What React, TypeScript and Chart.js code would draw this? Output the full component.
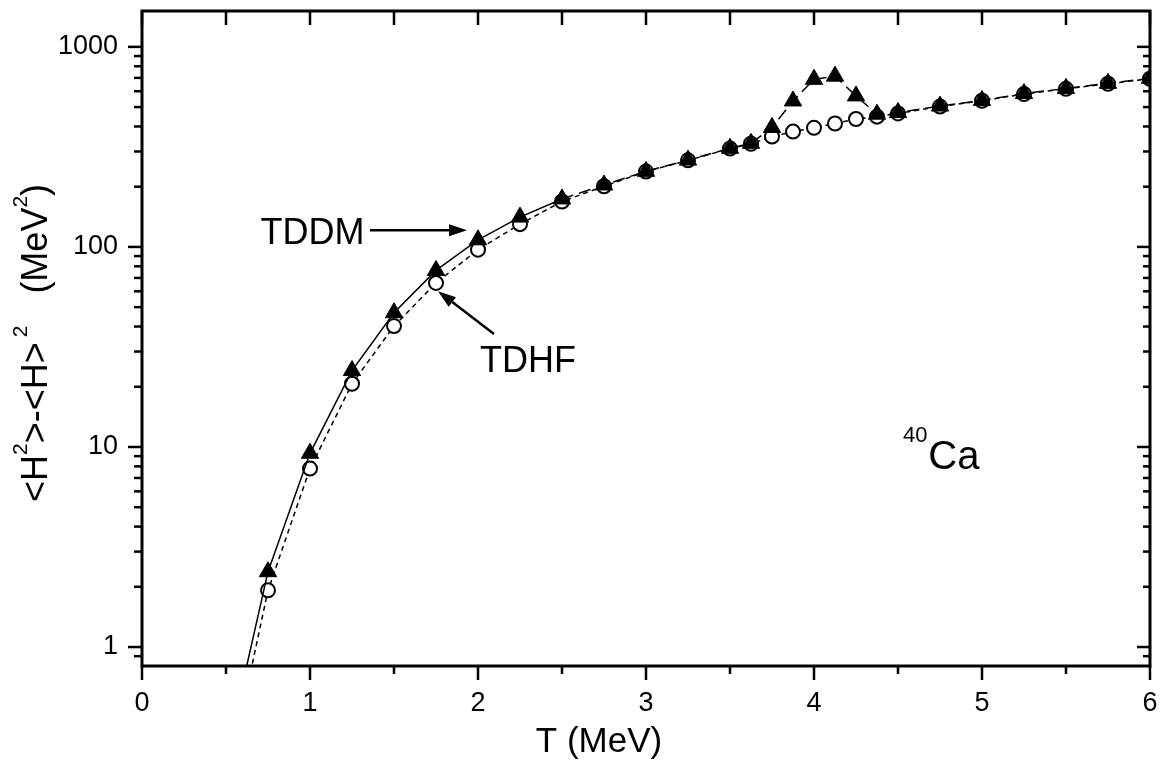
import React, { useEffect, useRef } from 'react';
import { Chart, registerables } from 'chart.js';

Chart.register(...registerables);

// ---------- data ----------
const temperatureMeV = [0.5, 0.75, 1.0, 1.25, 1.5, 1.75, 2.0, 2.25, 2.5, 2.75, 3.0, 3.25, 3.5, 3.625, 3.75, 3.875, 4.0, 4.125, 4.25, 4.375, 4.5, 4.75, 5.0, 5.25, 5.5, 5.75, 6.0];
const tddmVariance = [0.28, 2.38, 9.3, 24.1, 46.9, 76.3, 108.5, 141, 173.7, 204, 238.7, 271.7, 311, 329.5, 395.6, 536.5, 688, 714, 568.6, 460.7, 469.5, 506, 540, 584, 620, 657, 696];
const tdhfVariance = [0.2, 1.92, 7.8, 20.7, 40.2, 66.1, 96.9, 130, 168.7, 201, 238, 271, 310, 328, 356, 377, 394, 414, 436, 448, 465, 503, 538, 581, 617, 654, 693];

const xMajorTicks = [0, 1, 2, 3, 4, 5, 6];
const xTickLabels = ['0', '1', '2', '3', '4', '5', '6'];
const xMinorTicks = [0.5, 1.5, 2.5, 3.5, 4.5, 5.5];
const yMajorTicks = [1, 10, 100, 1000];
const yTickLabels = ['1', '10', '100', '1000'];
const yMinorTicks = [0.9, 2, 3, 4, 5, 6, 7, 8, 9, 20, 30, 40, 50, 60, 70, 80, 90, 200, 300, 400, 500, 600, 700, 800, 900];

const FONT = '"Liberation Sans", Arial, Helvetica, sans-serif';

function arrow(ctx: CanvasRenderingContext2D, x1: number, y1: number, x2: number, y2: number) {
  const ang = Math.atan2(y2 - y1, x2 - x1);
  const hl = 18;
  const hw = 6;
  const bx = x2 - Math.cos(ang) * hl;
  const by = y2 - Math.sin(ang) * hl;
  ctx.beginPath();
  ctx.moveTo(x1, y1);
  ctx.lineTo(bx, by);
  ctx.lineWidth = 2.5;
  ctx.stroke();
  ctx.beginPath();
  ctx.moveTo(x2, y2);
  ctx.lineTo(bx + Math.sin(ang) * hw, by - Math.cos(ang) * hw);
  ctx.lineTo(bx - Math.sin(ang) * hw, by + Math.cos(ang) * hw);
  ctx.closePath();
  ctx.fill();
}

const framePlugin = {
  id: 'originFrame',
  afterDraw(chart: any) {
    const { ctx, chartArea: a, scales } = chart;
    const xs = scales.x;
    const ys = scales.y;
    const px = (v: number) => xs.getPixelForValue(v);
    const py = (v: number) => ys.getPixelForValue(v);
    ctx.save();
    ctx.strokeStyle = '#000';
    ctx.fillStyle = '#000';
    ctx.lineCap = 'butt';
    const seg = (x1: number, y1: number, x2: number, y2: number) => {
      ctx.beginPath();
      ctx.moveTo(x1, y1);
      ctx.lineTo(x2, y2);
      ctx.stroke();
    };
    ctx.lineWidth = 2.5;
    xMajorTicks.forEach((v) => {
      const x = px(v);
      seg(x, a.bottom, x, a.bottom + 14);
      seg(x, a.top, x, a.top + 14);
    });
    xMinorTicks.forEach((v) => {
      const x = px(v);
      seg(x, a.bottom, x, a.bottom + 8);
      seg(x, a.top, x, a.top + 14);
    });
    yMajorTicks.forEach((v) => {
      const y = py(v);
      seg(a.left - 14, y, a.left, y);
      seg(a.right - 13, y, a.right, y);
    });
    yMinorTicks.forEach((v) => {
      const y = py(v);
      if (y < a.top || y > a.bottom) return;
      seg(a.left - 8, y, a.left, y);
      seg(a.right - 7, y, a.right, y);
    });
    ctx.lineWidth = 3;
    ctx.strokeRect(a.left, a.top, a.right - a.left, a.bottom - a.top);

    // x title
    ctx.font = `35px ${FONT}`;
    ctx.textAlign = 'center';
    ctx.textBaseline = 'alphabetic';
    ctx.fillText('T (MeV)', 599, 752);

    // y title (rotated, with superscripts)
    const big = `36px ${FONT}`;
    const small = `21px ${FONT}`;
    const parts: { t: string; sup?: boolean; gap?: number }[] = [
      { t: '<H' },
      { t: '2', sup: true },
      { t: '>-<H>' },
      { t: '', gap: 5 },
      { t: '2', sup: true },
      { t: '', gap: 32 },
      { t: '(MeV' },
      { t: '2', sup: true },
      { t: ')' },
    ];
    let total = 0;
    const widths = parts.map((p) => {
      if (p.gap) return p.gap;
      ctx.font = p.sup ? small : big;
      return ctx.measureText(p.t).width;
    });
    widths.forEach((w) => (total += w));
    ctx.save();
    ctx.translate(47, 343);
    ctx.rotate(-Math.PI / 2);
    ctx.textAlign = 'left';
    let cx = -total / 2;
    parts.forEach((p, i) => {
      if (!p.gap) {
        ctx.font = p.sup ? small : big;
        ctx.fillText(p.t, cx, p.sup ? -20 : 0);
      }
      cx += widths[i];
    });
    ctx.restore();

    // annotations
    ctx.textAlign = 'left';
    ctx.font = `36px ${FONT}`;
    ctx.fillText('TDDM', px(0.705), py(104));
    arrow(ctx, px(1.357), py(121), px(1.935), py(121));
    ctx.fillText('TDHF', px(2.012), py(23.7));
    arrow(ctx, px(2.095), py(36.7), px(1.762), py(60.1));
    ctx.font = `22px ${FONT}`;
    ctx.fillText('40', px(4.53), py(10.6));
    ctx.font = `40px ${FONT}`;
    ctx.fillText('Ca', px(4.68), py(7.8));
    ctx.restore();
  },
};

export default function App() {
  const ref = useRef<HTMLCanvasElement | null>(null);
  useEffect(() => {
    document.body.style.margin = '0';
    const canvas = ref.current;
    if (!canvas) return;
    const tddm = temperatureMeV.map((t, i) => ({ x: t, y: tddmVariance[i] }));
    const tdhf = temperatureMeV.map((t, i) => ({ x: t, y: tdhfVariance[i] }));
    const chart = new Chart(canvas, {
      type: 'line',
      data: {
        datasets: [
          {
            label: 'TDDM',
            data: tddm,
            order: 0,
            borderColor: '#000',
            borderWidth: 1.5,
            backgroundColor: '#000',
            pointStyle: 'triangle',
            pointRadius: (c: any) => (c.dataIndex === 0 ? 0 : 10),
            pointBorderWidth: 1,
            pointBorderColor: '#000',
            pointBackgroundColor: '#000',
            tension: 0,
            fill: false,
            segment: {
              borderDash: (c: any) => (c.p0.parsed.x >= 2.5 ? [12, 6] : undefined),
            },
          },
          {
            label: 'TDHF',
            data: tdhf,
            order: 1,
            borderColor: '#000',
            borderWidth: 1.5,
            borderDash: [5, 4],
            pointStyle: 'circle',
            pointRadius: (c: any) => (c.dataIndex === 0 ? 0 : 7),
            pointBorderWidth: 2,
            pointBorderColor: '#000',
            pointBackgroundColor: '#fff',
            tension: 0,
            fill: false,
          },
        ],
      },
      options: {
        responsive: false,
        animation: false,
        devicePixelRatio: 1,
        layout: { padding: { left: 0, top: 9, right: 14, bottom: 0 } },
        plugins: { legend: { display: false }, tooltip: { enabled: false } },
        scales: {
          x: {
            type: 'linear',
            min: 0,
            max: 6,
            grid: { display: false, drawTicks: false },
            border: { display: false },
            afterBuildTicks: (s: any) => {
              s.ticks = xMajorTicks.map((v) => ({ value: v }));
            },
            afterFit: (s: any) => {
              s.height = 99;
              s.paddingLeft = 0;
              s.paddingRight = 0;
            },
            ticks: {
              autoSkip: false,
              maxRotation: 0,
              padding: 21,
              color: '#000',
              font: { family: FONT, size: 27 },
              callback: (_v: any, i: number) => xTickLabels[i],
            },
          },
          y: {
            type: 'logarithmic',
            min: 0.804,
            max: 1511,
            grid: { display: false, drawTicks: false },
            border: { display: false },
            afterBuildTicks: (s: any) => {
              s.ticks = yMajorTicks.map((v) => ({ value: v }));
            },
            afterFit: (s: any) => {
              s.width = 142;
              s.paddingTop = 0;
              s.paddingBottom = 0;
            },
            ticks: {
              autoSkip: false,
              padding: 24,
              color: '#000',
              font: { family: FONT, size: 27 },
              callback: (_v: any, i: number) => yTickLabels[i],
            },
          },
        },
      },
      plugins: [framePlugin],
    } as any);
    return () => chart.destroy();
  }, []);
  return (
    <div style={{ width: 1164, height: 765 }}>
      <canvas ref={ref} width={1164} height={765} style={{ display: 'block' }} />
    </div>
  );
}
